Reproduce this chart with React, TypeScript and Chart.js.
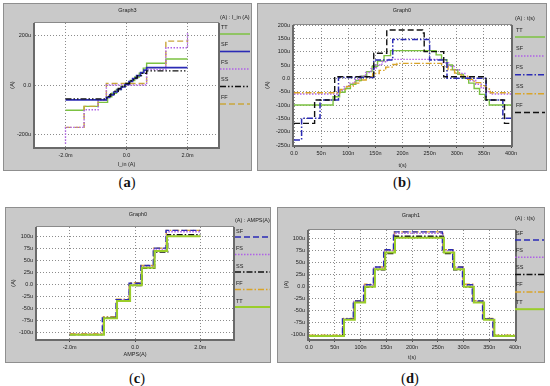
import React, { useEffect, useRef } from 'react';
import { Chart, registerables } from 'chart.js';
Chart.register(...registerables);

type P = [number, number];

// ---------- Panel (a): Graph3, x = I_in (mA), y = current (uA)
const aTT: P[] = [[-2, -102], [-1.39, -86], [-0.93, -70], [-0.62, -48], [-0.48, -33], [-0.33, -18], [-0.18, -5], [-0.03, 6], [0.12, 18], [0.27, 32], [0.42, 48], [0.55, 68], [0.66, 88], [1.29, 105], [2, 105]];
const aSF: P[] = [[-2, -60], [-0.66, -50], [-0.55, -40], [-0.42, -28], [-0.3, -18], [-0.17, -8], [-0.05, 2], [0.08, 14], [0.2, 26], [0.33, 38], [0.46, 50], [0.57, 60], [0.66, 70], [2, 70]];
const aFS: P[] = [[-2, -237], [-2, -171], [-1.39, -100], [-0.93, -62], [-0.66, 0], [0.66, 62], [1.29, 150], [1.97, 150], [2, 212]];
const aSS: P[] = [[-2, -56], [-0.64, -46], [-0.52, -36], [-0.4, -25], [-0.27, -14], [-0.14, -4], [-0.02, 6], [0.1, 17], [0.23, 28], [0.36, 38], [0.49, 47], [0.66, 57], [2, 57]];
const aFF: P[] = [[-2, -171], [-1.39, -86], [-0.93, -60], [-0.66, 6], [0.66, 70], [1.29, 177], [2, 183]];
const aXTicks = [-2, 0, 2];
const aXLabels = ['-2.0m', '0.0', '2.0m'];
const aYTicks = [-200, 0, 200];
const aYLabels = ['-200u', '0.0', '200u'];

// ---------- Panel (b): Graph0, x = t (ns), y = current (uA)
const bTT: P[] = [[0, -100], [72, -69], [84, -52], [94, -38], [104, -22], [114, -8], [124, 8], [134, 25], [144, 45], [154, 65], [166, 85], [178, 104], [255, 104], [262, 88], [272, 70], [282, 50], [292, 32], [302, 15], [312, 0], [322, -18], [332, -38], [342, -60], [352, -80], [360, -100], [400, -100]];
const bSF: P[] = [[0, -59], [82, -45], [92, -32], [102, -18], [112, -5], [122, 8], [132, 22], [142, 36], [152, 50], [162, 62], [172, 71], [265, 71], [275, 58], [285, 45], [295, 32], [305, 18], [315, 5], [325, -8], [335, -22], [345, -36], [355, -50], [362, -59], [400, -59]];
const bFS: P[] = [[0, -231], [14, -150], [48, -81], [82, 3], [147, 69], [182, 146], [248, 146], [250, 69], [282, 0], [354, -81], [385, -150], [400, -150]];
const bSS: P[] = [[0, -54], [85, -42], [97, -30], [109, -18], [121, -6], [133, 6], [145, 18], [157, 30], [169, 42], [181, 52], [190, 56], [262, 56], [272, 44], [284, 32], [296, 20], [308, 8], [320, -4], [332, -16], [344, -28], [354, -40], [362, -54], [400, -54]];
const bFF: P[] = [[0, -169], [38, -81], [75, 6], [147, 94], [171, 181], [234, 181], [237, 170], [240, 100], [276, 6], [354, -81], [388, -169], [400, -169]];
const bXTicks = [0, 50, 100, 150, 200, 250, 300, 350, 400];
const bXLabels = ['0.0', '50n', '100n', '150n', '200n', '250n', '300n', '350n', '400n'];
const bYTicks = [-250, -200, -150, -100, -50, 0, 50, 100, 150, 200];
const bYLabels = ['-250u', '-200u', '-150u', '-100u', '-50u', '0.0', '50u', '100u', '150u', '200u'];

// ---------- Panel (c): Graph0, x = AMPS (mA), y = current (uA)
const cSF: P[] = [[-2, -104], [-1.0, -69], [-0.58, -31], [-0.18, 3], [0.18, 40], [0.56, 76], [0.95, 113], [2, 113]];
const cFS: P[] = [[-2, -103], [-0.98, -70], [-0.56, -32], [-0.17, 1], [0.19, 38], [0.58, 74], [0.96, 110], [2, 110]];
const cSS: P[] = [[-2, -104], [-0.95, -68], [-0.55, -33], [-0.15, -2], [0.22, 34], [0.6, 68], [1.0, 104], [2, 104]];
const cFF: P[] = [[-2, -102], [-0.97, -67], [-0.57, -30], [-0.18, 4], [0.2, 40], [0.57, 76], [0.96, 113], [2, 113]];
const cTT: P[] = [[-2, -104], [-0.95, -70], [-0.55, -34], [-0.15, -1], [0.21, 35], [0.6, 70], [0.98, 101], [2, 101]];
const cXTicks = [-2, 0, 2];
const cXLabels = ['-2.0m', '0.0', '2.0m'];
const cYTicks = [-100, -75, -50, -25, 0, 25, 50, 75, 100];
const cYLabels = ['-100u', '-75u', '-50u', '-25u', '0.0', '25u', '50u', '75u', '100u'];

// ---------- Panel (d): Graph1, x = t (ns), y = current (uA)
const dSF: P[] = [[0, -104], [65, -68], [86, -31], [106, 3], [125, 40], [145, 76], [164, 113], [259, 76], [279, 40], [298, 3], [317, -31], [337, -68], [357, -104], [400, -104]];
const dFS: P[] = [[0, -104], [66, -69], [87, -32], [107, 2], [126, 38], [146, 74], [165, 110], [260, 74], [280, 38], [299, 2], [318, -32], [338, -69], [358, -104], [400, -104]];
const dSS: P[] = [[0, -104], [66, -68], [88, -33], [108, -2], [127, 34], [147, 68], [166, 104], [261, 68], [281, 34], [300, -2], [319, -33], [339, -68], [359, -104], [400, -104]];
const dFF: P[] = [[0, -102], [67, -67], [88, -30], [108, 4], [127, 40], [147, 76], [166, 113], [260, 76], [280, 40], [299, 4], [318, -30], [338, -67], [358, -102], [400, -102]];
const dTT: P[] = [[0, -104], [68, -70], [89, -34], [109, -1], [128, 35], [148, 70], [167, 101], [262, 70], [282, 35], [301, -1], [320, -34], [340, -70], [360, -104], [400, -104]];
const dXTicks = [0, 50, 100, 150, 200, 250, 300, 350, 400];
const dXLabels = ['0.0', '50n', '100n', '150n', '200n', '250n', '300n', '350n', '400n'];
const dYTicks = [-100, -75, -50, -25, 0, 25, 50, 75, 100];
const dYLabels = ['-100u', '-75u', '-50u', '-25u', '0.0', '25u', '50u', '75u', '100u'];

// ---------- styles
type Sty = { color: string; dash: number[]; width: number };
const SOLID: number[] = [];
const DOT = [1.5, 1.5];
const DASH = [6, 3];
const DASHDOT = [6, 2, 1.5, 2];
const DASHDOTDOT = [6, 2, 1.5, 2, 1.5, 2];
const GREEN = '#7cc242';
const GREEN2 = '#9acd2a';
const BLUE = '#2b2bb5';
const VIOLET = '#b062e6';
const BLACK = '#111111';
const OLIVE = '#c9a63c';
const ORANGE = '#d9a428';

const FONT = '"Liberation Sans", Arial, sans-serif';
const FS = 5.5;

interface Series { name: string; data: P[]; style: Sty; order: number }
interface PanelProps {
  box: { x: number; y: number; w: number; h: number };
  area: { l: number; t: number; r: number; b: number };
  title: string; titleY: number;
  xTitle: string; xTitlePad: number; yTitlePad: number;
  xRange: [number, number]; yRange: [number, number];
  xTicks: number[]; xLabels: string[]; yTicks: number[]; yLabels: string[];
  series: Series[];
  legend: { header: string; x: number; headerY: number; firstY: number; gap: number; lineOff: number; lineW: number };
}

function Panel(p: PanelProps) {
  const ref = useRef<HTMLCanvasElement>(null);
  useEffect(() => {
    const cv = ref.current;
    if (!cv) return;
    const { box, area, legend } = p;
    const font = { family: FONT, size: FS };
    const lbl = (ticks: number[], labels: string[]) => (v: any) => {
      const i = ticks.findIndex((t) => Math.abs(t - Number(v)) < 1e-9);
      return i >= 0 ? labels[i] : '';
    };
    const plugin = {
      id: 'panelDecor',
      beforeDraw(c: any) {
        const { ctx, width, height, chartArea: a } = c;
        ctx.save();
        ctx.fillStyle = '#c9c9c9';
        ctx.fillRect(0, 0, width, height);
        ctx.strokeStyle = '#8f8f8f';
        ctx.lineWidth = 1;
        ctx.strokeRect(0.5, 0.5, width - 1, height - 1);
        ctx.fillStyle = '#ffffff';
        ctx.fillRect(a.left, a.top, a.right - a.left, a.bottom - a.top);
        ctx.restore();
      },
      afterDatasetsDraw(c: any) {
        const { ctx, chartArea: a } = c;
        ctx.save();
        ctx.strokeStyle = '#8a8a8a';
        ctx.lineWidth = 1;
        ctx.strokeRect(a.left - 0.5, a.top - 0.5, a.right - a.left + 1, a.bottom - a.top + 1);
        ctx.strokeStyle = '#6a6a6a';
        ctx.lineWidth = 2;
        ctx.beginPath();
        ctx.moveTo(a.left - 1, a.top);
        ctx.lineTo(a.left - 1, a.bottom + 1);
        ctx.lineTo(a.right + 1, a.bottom + 1);
        ctx.lineTo(a.right + 1, a.top);
        ctx.stroke();
        ctx.restore();
      },
      afterDraw(c: any) {
        const { ctx, width } = c;
        ctx.save();
        ctx.font = `${FS}px ${FONT}`;
        ctx.fillStyle = '#222';
        ctx.textBaseline = 'middle';
        ctx.textAlign = 'center';
        ctx.fillText(p.title, width / 2, p.titleY);
        ctx.textAlign = 'left';
        ctx.fillText(legend.header, legend.x, legend.headerY);
        p.series.forEach((s, i) => {
          const y = legend.firstY + i * legend.gap;
          ctx.fillStyle = '#222';
          ctx.fillText(s.name, legend.x + 1, y);
          ctx.strokeStyle = s.style.color;
          ctx.lineWidth = Math.max(1.5, s.style.width);
          ctx.setLineDash(s.style.dash);
          ctx.beginPath();
          ctx.moveTo(legend.x, y + legend.lineOff);
          ctx.lineTo(legend.x + legend.lineW, y + legend.lineOff);
          ctx.stroke();
          ctx.setLineDash([]);
        });
        ctx.restore();
      },
    };
    const gridCommon = {
      color: '#8c8c8c',
      lineWidth: 1,
      tickColor: '#444',
      tickWidth: 1,
    };
    const chart = new Chart(cv, {
      type: 'line',
      data: {
        datasets: p.series.map((s) => ({
          label: s.name,
          data: s.data.map(([x, y]) => ({ x, y })),
          borderColor: s.style.color,
          borderDash: s.style.dash,
          borderWidth: s.style.width,
          pointRadius: 0,
          stepped: true,
          fill: false,
          tension: 0,
          order: s.order,
        })),
      },
      options: {
        responsive: false,
        animation: false,
        devicePixelRatio: 1,
        layout: { padding: { left: 0, top: area.t, right: box.w - area.r, bottom: 0 } },
        plugins: { legend: { display: false }, tooltip: { enabled: false }, title: { display: false } },
        scales: {
          x: {
            type: 'linear',
            min: p.xRange[0],
            max: p.xRange[1],
            afterBuildTicks: (s: any) => { s.ticks = p.xTicks.map((v) => ({ value: v })); },
            afterFit: (s: any) => { s.height = box.h - area.b; },
            ticks: { callback: lbl(p.xTicks, p.xLabels), font, color: '#222', padding: 2, maxRotation: 0, autoSkip: false },
            grid: { ...gridCommon, tickLength: 3 },
            border: { display: false, dash: [1, 2] },
            title: { display: true, text: p.xTitle, font, color: '#222', padding: { top: 0, bottom: p.xTitlePad } },
          },
          y: {
            type: 'linear',
            min: p.yRange[0],
            max: p.yRange[1],
            afterBuildTicks: (s: any) => { s.ticks = p.yTicks.map((v) => ({ value: v })); },
            afterFit: (s: any) => { s.width = area.l; },
            ticks: { callback: lbl(p.yTicks, p.yLabels), font, color: '#222', padding: 2, autoSkip: false },
            grid: { ...gridCommon, tickLength: 2 },
            border: { display: false, dash: [1, 2] },
            title: { display: true, text: '(A)', font, color: '#222', padding: { top: p.yTitlePad, bottom: 0 } },
          },
        },
      },
      plugins: [plugin],
    } as any);
    return () => chart.destroy();
  }, []);
  return (
    <canvas
      ref={ref}
      width={p.box.w}
      height={p.box.h}
      style={{ position: 'absolute', left: p.box.x, top: p.box.y, width: p.box.w, height: p.box.h }}
    />
  );
}

function Caption({ x, y, letter }: { x: number; y: number; letter: string }) {
  return (
    <div
      style={{
        position: 'absolute', left: x - 30, top: y - 10, width: 60, height: 20, lineHeight: '20px',
        textAlign: 'center', fontFamily: '"Liberation Serif", "DejaVu Serif", serif', fontSize: 14.5, color: '#111',
      }}
    >
      (<b>{letter}</b>)
    </div>
  );
}

export default function App() {
  const sA: Series[] = [
    { name: 'TT', data: aTT, style: { color: GREEN, dash: SOLID, width: 1.4 }, order: 4 },
    { name: 'SF', data: aSF, style: { color: BLUE, dash: SOLID, width: 1.6 }, order: 1 },
    { name: 'FS', data: aFS, style: { color: VIOLET, dash: DOT, width: 1.4 }, order: 2 },
    { name: 'SS', data: aSS, style: { color: BLACK, dash: DASHDOTDOT, width: 1.4 }, order: 0 },
    { name: 'FF', data: aFF, style: { color: OLIVE, dash: DASH, width: 1.4 }, order: 3 },
  ];
  const sB: Series[] = [
    { name: 'TT', data: bTT, style: { color: GREEN, dash: SOLID, width: 1.4 }, order: 4 },
    { name: 'SF', data: bSF, style: { color: VIOLET, dash: DOT, width: 1.4 }, order: 3 },
    { name: 'FS', data: bFS, style: { color: BLUE, dash: DASHDOT, width: 1.5 }, order: 1 },
    { name: 'SS', data: bSS, style: { color: ORANGE, dash: DASHDOT, width: 1.4 }, order: 2 },
    { name: 'FF', data: bFF, style: { color: BLACK, dash: DASH, width: 1.4 }, order: 0 },
  ];
  const sC: Series[] = [
    { name: 'SF', data: cSF, style: { color: BLUE, dash: DASH, width: 1.4 }, order: 1 },
    { name: 'FS', data: cFS, style: { color: VIOLET, dash: DOT, width: 1.4 }, order: 2 },
    { name: 'SS', data: cSS, style: { color: BLACK, dash: DASHDOT, width: 1.4 }, order: 3 },
    { name: 'FF', data: cFF, style: { color: ORANGE, dash: DASHDOT, width: 1.4 }, order: 4 },
    { name: 'TT', data: cTT, style: { color: GREEN2, dash: SOLID, width: 2 }, order: 0 },
  ];
  const sD: Series[] = [
    { name: 'SF', data: dSF, style: { color: BLUE, dash: DASH, width: 1.4 }, order: 1 },
    { name: 'FS', data: dFS, style: { color: VIOLET, dash: DOT, width: 1.4 }, order: 2 },
    { name: 'SS', data: dSS, style: { color: BLACK, dash: DASHDOT, width: 1.4 }, order: 3 },
    { name: 'FF', data: dFF, style: { color: ORANGE, dash: DASHDOT, width: 1.4 }, order: 4 },
    { name: 'TT', data: dTT, style: { color: GREEN2, dash: SOLID, width: 2 }, order: 0 },
  ];
  return (
    <div style={{ position: 'absolute', left: 0, top: 0, width: 550, height: 386, background: '#fff', overflow: 'hidden' }}>
      <Panel
        box={{ x: 3, y: 3, w: 249, h: 168 }}
        area={{ l: 32, t: 20, r: 215, b: 144 }}
        title="Graph3" titleY={7}
        xTitle="I_in (A)" xTitlePad={3.7} yTitlePad={5.7}
        xRange={[-3, 3]} yRange={[-250, 250]}
        xTicks={aXTicks} xLabels={aXLabels} yTicks={aYTicks} yLabels={aYLabels}
        series={sA}
        legend={{ header: '(A) : I_in (A)', x: 217, headerY: 14, firstY: 24, gap: 17.5, lineOff: 7, lineW: 30 }}
      />
      <Panel
        box={{ x: 257, y: 3, w: 290, h: 168 }}
        area={{ l: 37, t: 22, r: 254, b: 142 }}
        title="Graph0" titleY={7}
        xTitle="t(s)" xTitlePad={2.7} yTitlePad={6.7}
        xRange={[0, 400]} yRange={[-250, 200]}
        xTicks={bXTicks} xLabels={bXLabels} yTicks={bYTicks} yLabels={bYLabels}
        series={sB}
        legend={{ header: '(A) : t(s)', x: 258, headerY: 15, firstY: 27, gap: 18.9, lineOff: 7, lineW: 30 }}
      />
      <Panel
        box={{ x: 5, y: 207, w: 266, h: 156 }}
        area={{ l: 32, t: 20, r: 228, b: 132 }}
        title="Graph0" titleY={7}
        xTitle="AMPS(A)" xTitlePad={5.7} yTitlePad={4.7}
        xRange={[-3, 3]} yRange={[-113, 120]}
        xTicks={cXTicks} xLabels={cXLabels} yTicks={cYTicks} yLabels={cYLabels}
        series={sC}
        legend={{ header: '(A) : AMPS(A)', x: 230, headerY: 13, firstY: 24, gap: 17.5, lineOff: 6, lineW: 35 }}
      />
      <Panel
        box={{ x: 277, y: 207, w: 268, h: 156 }}
        area={{ l: 32, t: 23, r: 238, b: 132 }}
        title="Graph1" titleY={8}
        xTitle="t(s)" xTitlePad={2.7} yTitlePad={5.7}
        xRange={[0, 400]} yRange={[-110, 117]}
        xTicks={dXTicks} xLabels={dXLabels} yTicks={dYTicks} yLabels={dYLabels}
        series={sD}
        legend={{ header: '(A) : t(s)', x: 238, headerY: 11, firstY: 26, gap: 17.3, lineOff: 7, lineW: 29 }}
      />
      <Caption x={127} y={182} letter="a" />
      <Caption x={402} y={182} letter="b" />
      <Caption x={137} y={378} letter="c" />
      <Caption x={410} y={378} letter="d" />
    </div>
  );
}
